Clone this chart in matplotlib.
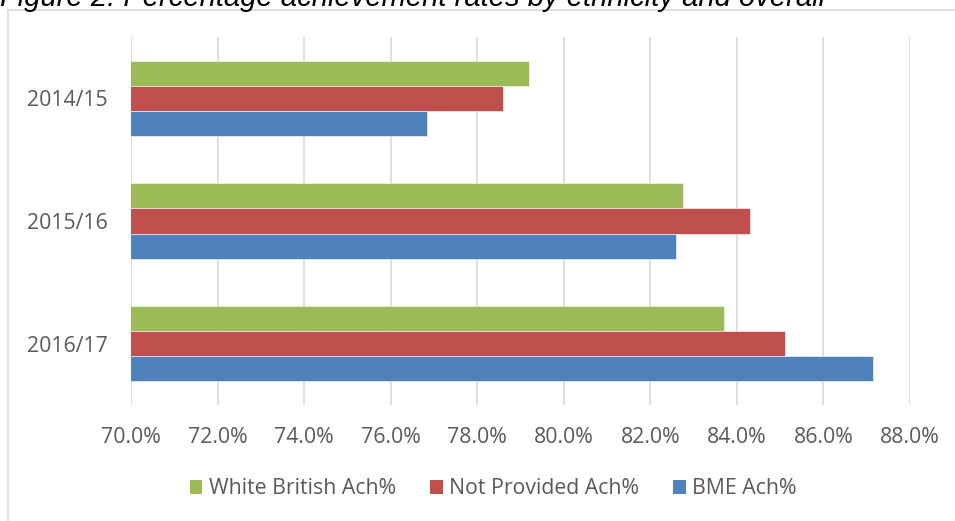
import matplotlib
matplotlib.use("Agg")
import matplotlib.pyplot as plt
from matplotlib.lines import Line2D
from matplotlib.patches import Patch
import numpy as np

years = ["2014/15", "2015/16", "2016/17"]
white_british = [79.2, 82.75, 83.7]
not_provided = [78.6, 84.3, 85.12]
bme = [76.85, 82.6, 87.15]
series_names = ["White British Ach%", "Not Provided Ach%", "BME Ach%"]
xticks = [70, 72, 74, 76, 78, 80, 82, 84, 86, 88]

colors = ["#9BBB59", "#C0504D", "#4F81BD"]
W, H = 955, 521
fig = plt.figure(figsize=(W / 100, H / 100), dpi=100)
fig.patch.set_facecolor("white")

font = "Open Sans"
txtcol = "#595959"
fs = 15.3

ax = fig.add_axes([131 / W, 1 - 405 / H, (910 - 131) / W, (405 - 37) / H])
ax.set_facecolor("white")
h = 0.205
y = np.arange(len(years))
for k, (vals, c) in enumerate(zip([white_british, not_provided, bme], colors)):
    ax.barh(y + (k - 1) * h, vals, height=h, color=c, edgecolor="white",
            linewidth=0.4, zorder=3, label=series_names[k])
ax.set_xlim(70, 88)
ax.set_ylim(len(years) - 0.5, -0.5)
ax.set_xticks(xticks)
ax.set_xticklabels([f"{t:.1f}%" for t in xticks], fontfamily=font, fontsize=fs, color=txtcol)
ax.set_yticks(y)
ax.set_yticklabels(years, fontfamily=font, fontsize=fs, color=txtcol)
ax.tick_params(length=0, pad=16, axis="x")
ax.tick_params(length=0, pad=17, axis="y")
ax.grid(axis="x", color="#d9d9d9", linewidth=1.2, zorder=0)
for s in ax.spines.values():
    s.set_visible(False)

handles = [Patch(facecolor=c, edgecolor="none") for c in colors]
fig.legend(handles, series_names, loc="center", bbox_to_anchor=(493 / W, 1 - 489 / H),
           ncol=3, frameon=False, prop={"family": font, "size": fs},
           labelcolor=txtcol, handlelength=0.6, handleheight=0.6, handletextpad=0.3,
           columnspacing=1.6)

# outer border (partially cropped)
fig.add_artist(Line2D([7.5 / W, 954 / W], [1 - 9.5 / H, 1 - 9.5 / H],
                      transform=fig.transFigure, color="#d9d9d9", linewidth=1.2))
fig.add_artist(Line2D([7.5 / W, 7.5 / W], [1 - 9.5 / H, 0],
                      transform=fig.transFigure, color="#d9d9d9", linewidth=1.2))

fig.text(0, 1 - 6 / H, "Figure 2: Percentage achievement rates by ethnicity and overall",
         fontfamily="Liberation Sans", style="italic", fontsize=21, color="black",
         ha="left", va="baseline")

fig.savefig("out.png", dpi=100)
